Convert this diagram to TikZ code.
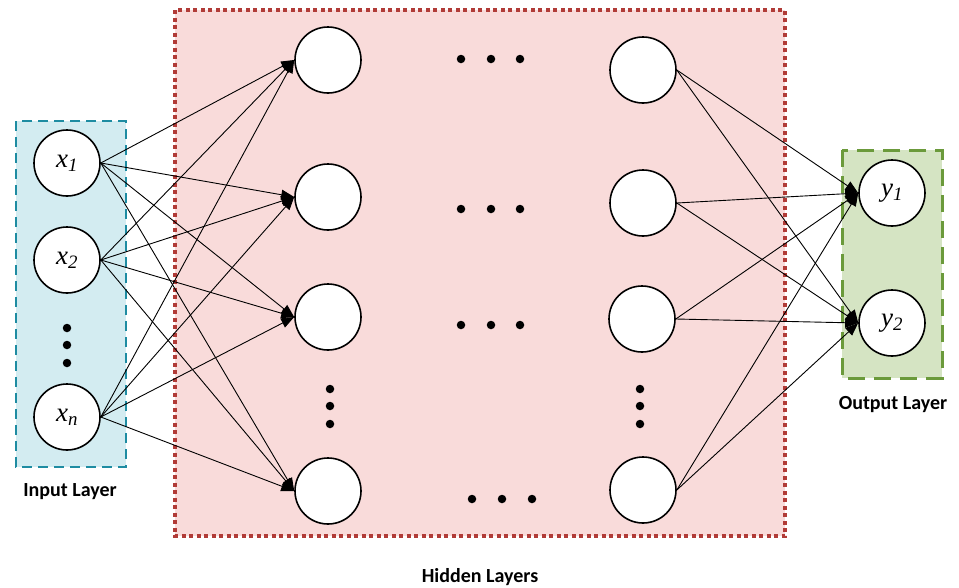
\documentclass[tikz,border=0pt]{standalone}
\usepackage{fontspec}
\setmainfont{Liberation Serif}
\newfontfamily\labelfont{Carlito}
\usetikzlibrary{arrows.meta}
\definecolor{inputfill}{HTML}{D3ECF1}
\definecolor{inputline}{HTML}{1E8CA2}
\definecolor{hiddenfill}{HTML}{F9DBDA}
\definecolor{hiddenline}{HTML}{B13B37}
\definecolor{outputfill}{HTML}{D5E4C3}
\definecolor{outputline}{HTML}{6B9A3B}

\begin{document}
\begin{tikzpicture}[x=1pt,y=-1pt,
  neuron/.style={circle,draw,line width=1.6pt,fill=white,minimum size=66pt,inner sep=0pt,font=\fontsize{27}{27}\selectfont\itshape},
  link/.style={line width=0.9pt,-{Triangle[length=13pt,width=10pt]}},
  dot/.style={circle,fill=black,inner sep=0pt,minimum size=8.5pt},
  layerlabel/.style={font=\labelfont\bfseries\fontsize{20}{24}\selectfont}]
\useasboundingbox (0,0) rectangle (959,587);

% layer boxes
\draw[fill=inputfill,draw=inputline,line width=2.6pt,dash pattern=on 10pt off 6pt] (16,121) rectangle (126,467);
\draw[fill=hiddenfill,draw=hiddenline,line width=3.5pt,dash pattern=on 4pt off 3.5pt] (175,10) rectangle (785,536);
\draw[fill=outputfill,draw=outputline,line width=3pt,dash pattern=on 17pt off 9pt] (842,150) rectangle (942,378);

% input layer
\node[neuron] (in1) at (67,163) {x\textsubscript{1}};
\node[neuron] (in2) at (67,260) {x\textsubscript{2}};
\node[neuron] (inn) at (67,417) {x\textsubscript{n}};
\foreach \y in {328,345,363}
  \node[dot] at (67,\y) {};

% hidden layers
\node[neuron] (ha1) at (328,60) {};
\node[neuron] (ha2) at (328,197) {};
\node[neuron] (ha3) at (328,317) {};
\node[neuron] (ha4) at (328,491) {};
\node[neuron] (hb1) at (643,70) {};
\node[neuron] (hb2) at (643,203) {};
\node[neuron] (hb3) at (642,319) {};
\node[neuron] (hb4) at (643,490) {};
\foreach \y in {389,406,424} {
  \node[dot] at (330,\y) {};
  \node[dot] at (640,\y) {};
}
\foreach \y in {59,209,325}
  \foreach \x in {461,491,520}
    \node[dot] at (\x,\y) {};
\foreach \x in {472,502,532}
  \node[dot] at (\x,499) {};

% output layer
\node[neuron] (out1) at (892,193) {y\textsubscript{1}};
\node[neuron] (out2) at (892,323) {y\textsubscript{2}};

% connections
\foreach \i in {1,2,n}
  \foreach \j in {1,...,4}
    \draw[link] (in\i.east) -- (ha\j.west);
\foreach \j in {1,...,4}
  \foreach \k in {1,2}
    \draw[link] (hb\j.east) -- (out\k.west);

% labels
\node[layerlabel] (inlabel) at (70,492) {Input Layer};
\node[layerlabel] (hidlabel) at (480,577) {Hidden Layers};
\node[layerlabel] (outlabel) at (893,405) {Output Layer};
\end{tikzpicture}
\end{document}
